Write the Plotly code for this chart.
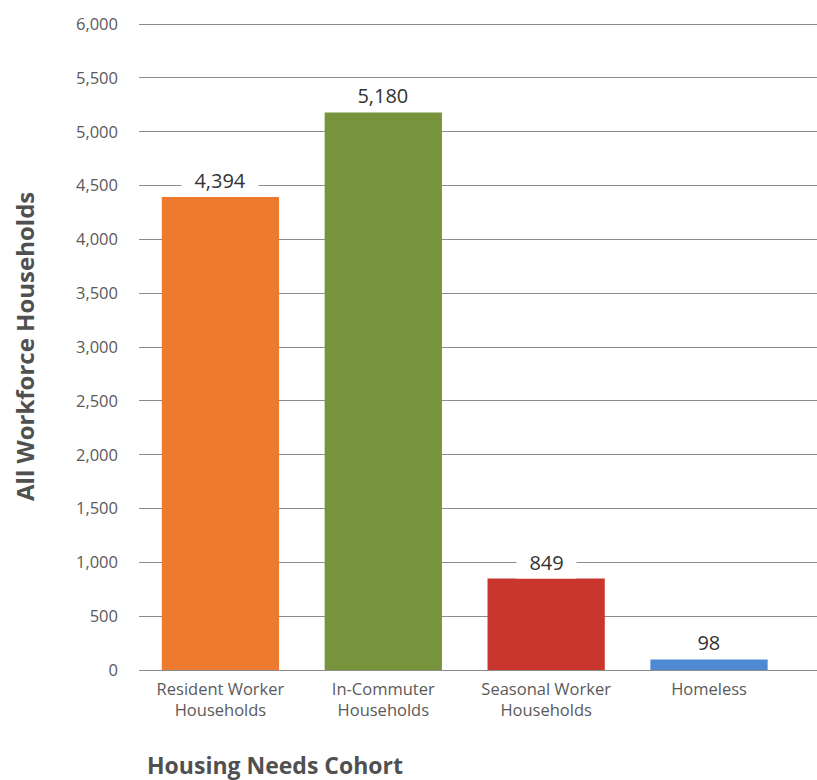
import plotly.graph_objects as go

categories = ["Resident Worker<br>Households", "In-Commuter<br>Households",
              "Seasonal Worker<br>Households", "Homeless"]
households = [4394, 5180, 849, 98]
bar_colors = ["#EE7A2F", "#77933C", "#C9362E", "#4E8AD3"]
y_ticks = list(range(0, 6001, 500))

PLOT_TOP, PLOT_BOTTOM, PLOT_LEFT = 22, 670, 139
plot_h = 780 - PLOT_TOP - (780 - PLOT_BOTTOM)

fig = go.Figure()
fig.add_trace(go.Bar(
    x=list(range(len(categories))),
    y=households,
    marker=dict(color=bar_colors, line=dict(width=0)),
    width=0.72,
    hoverinfo="skip",
))

# value labels on white boxes that break the gridlines
for i, v in enumerate(households):
    fig.add_annotation(
        x=i, y=v, text=f"&nbsp;&nbsp;{v:,}&nbsp;&nbsp;", showarrow=False,
        yanchor="bottom", yshift=0,
        bgcolor="white", borderpad=2,
        font=dict(family="Open Sans", size=20, color="#333333"),
    )

# axis titles
fig.add_annotation(
    xref="paper", yref="paper",
    x=(145 - PLOT_LEFT) / (817 - PLOT_LEFT), y=(PLOT_BOTTOM - 765) / plot_h,
    xanchor="left", yanchor="middle", showarrow=False,
    text="<b>Housing Needs Cohort</b>",
    font=dict(family="Open Sans", size=23, color="#505050"),
)
fig.add_annotation(
    xref="paper", yref="paper",
    x=(24 - PLOT_LEFT) / (817 - PLOT_LEFT), y=(PLOT_BOTTOM - 347) / plot_h,
    xanchor="center", yanchor="middle", showarrow=False, textangle=-90,
    text="<b>All Workforce Households</b>",
    font=dict(family="Open Sans", size=24, color="#505050"),
)

fig.update_layout(
    width=817, height=780,
    margin=dict(l=PLOT_LEFT, r=0, t=PLOT_TOP, b=780 - PLOT_BOTTOM),
    paper_bgcolor="white", plot_bgcolor="white",
    showlegend=False,
    xaxis=dict(
        range=[-0.5, 3.663],
        tickmode="array",
        tickvals=list(range(len(categories))),
        ticktext=categories,
        tickfont=dict(family="Open Sans", size=16.5, color="#5a5a5a"),
        ticklabelstandoff=7,
        showgrid=False, zeroline=False, showline=False,
        ticks="",
    ),
    yaxis=dict(
        range=[0, 6020],
        tickmode="array",
        tickvals=y_ticks,
        tickformat=",",
        tickfont=dict(family="Open Sans", size=16.5, color="#5a5a5a"),
        ticklabelstandoff=20,
        showgrid=True, gridcolor="#8C8C8C", gridwidth=1,
        zeroline=True, zerolinecolor="#8C8C8C", zerolinewidth=1,
        ticks="",
    ),
)

fig.write_html("out.html")
